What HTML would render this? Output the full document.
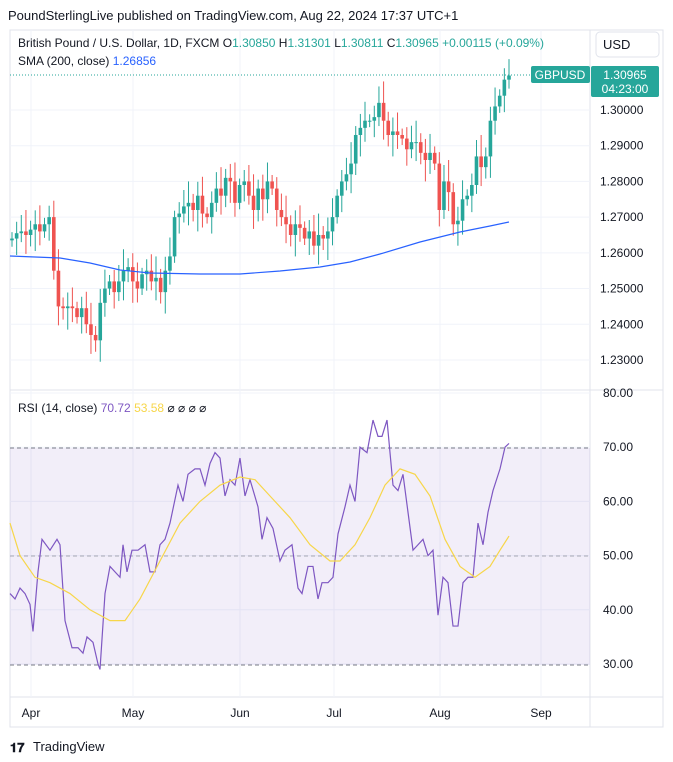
<!DOCTYPE html>
<html><head><meta charset="utf-8"><style>
body{margin:0;background:#fff;font-family:"Liberation Sans",sans-serif;}
svg{display:block}
</style></head><body>
<svg id="s" width="673" height="762" xmlns="http://www.w3.org/2000/svg" font-family="Liberation Sans, sans-serif">
<rect width="673" height="762" fill="#fff"/>
<text x="8" y="20" font-size="13" fill="#131722">PoundSterlingLive published on TradingView.com, Aug 22, 2024 17:37 UTC+1</text>
<rect x="10" y="30" width="653" height="697" fill="none" stroke="#e0e3eb"/>
<line x1="590" y1="30" x2="590" y2="727" stroke="#e0e3eb"/>
<line x1="10" y1="390" x2="663" y2="390" stroke="#e0e3eb"/>
<line x1="10" y1="697" x2="663" y2="697" stroke="#e0e3eb"/>
<rect x="596" y="32" width="63" height="25" rx="4" fill="#fff" stroke="#e0e3eb"/>
<text x="603" y="49" font-size="13" fill="#131722">USD</text>
<g id="grid"></g>
<rect x="10" y="448" width="580" height="217" fill="#7e57c2" fill-opacity="0.1"/>
<line x1="10" y1="448" x2="590" y2="448" stroke="#787b86" stroke-dasharray="4,3"/>
<line x1="10" y1="556" x2="590" y2="556" stroke="#787b86" stroke-opacity="0.6" stroke-dasharray="4,3"/>
<line x1="10" y1="665" x2="590" y2="665" stroke="#787b86" stroke-dasharray="4,3"/>
<g id="c"></g>
<line x1="10" y1="75" x2="590" y2="75" stroke="#26a69a" stroke-dasharray="1,2"/>
<rect x="531" y="66" width="59" height="17" rx="2" fill="#26a69a"/>
<text x="560" y="79" font-size="12" fill="#fff" text-anchor="middle">GBPUSD</text>
<rect x="591" y="66" width="68" height="31" rx="2" fill="#26a69a"/>
<text x="625" y="79" font-size="12" fill="#fff" text-anchor="middle">1.30965</text>
<text x="625" y="93" font-size="12" fill="#fff" text-anchor="middle">04:23:00</text>
<text x="18" y="47" font-size="12" fill="#131722">British Pound / U.S. Dollar, 1D, FXCM <tspan>O</tspan><tspan fill="#26a69a">1.30850</tspan> H<tspan fill="#26a69a">1.31301</tspan> L<tspan fill="#26a69a">1.30811</tspan> C<tspan fill="#26a69a">1.30965</tspan> <tspan fill="#26a69a">+0.00115 (+0.09%)</tspan></text>
<text x="18" y="65" font-size="12" fill="#131722">SMA (200, close) <tspan fill="#2962ff">1.26856</tspan></text>
<text x="18" y="412" font-size="12" fill="#131722">RSI (14, close) <tspan fill="#7e57c2">70.72</tspan> <tspan fill="#f7d64a">53.58</tspan> <tspan fill="#131722">⌀ ⌀ ⌀ ⌀</tspan></text>
<text x="10" y="752" font-size="13" fill="#131722" font-weight="bold">𝟏𝟕</text>
<text x="33" y="751" font-size="13" fill="#131722">TradingView</text>
</svg>
<script>
const NS="http://www.w3.org/2000/svg";
function el(p,t,a){const e=document.createElementNS(NS,t);for(const k in a)e.setAttribute(k,a[k]);document.getElementById(p).appendChild(e);return e;}
const py=p=>110+(1.30-p)*3571;
const ry=r=>393+(80-r)*5.42;
for(let p=1.23;p<=1.301;p+=0.01){const y=py(p);el("grid","line",{x1:10,x2:590,y1:y,y2:y,stroke:"#f0f3fa"});const t=el("grid","text",{x:600,y:y+4,"font-size":12,fill:"#131722"});t.textContent=p.toFixed(5);}
[80,70,60,50,40,30].forEach(r=>{const y=ry(r);el("grid","line",{x1:10,x2:590,y1:y,y2:y,stroke:"#f0f3fa"});const t=el("grid","text",{x:603,y:y+4,"font-size":12,fill:"#131722"});t.textContent=r.toFixed(2);});
[["Apr",31],["May",133],["Jun",240],["Jul",334],["Aug",440],["Sep",541]].forEach(([m,x])=>{el("grid","line",{x1:x,x2:x,y1:30,y2:697,stroke:"#f0f3fa"});const t=el("grid","text",{x:x,y:717,"font-size":12,fill:"#131722","text-anchor":"middle"});t.textContent=m;});
const C=[1.264,1.2655,1.266,1.265,1.2665,1.268,1.266,1.268,1.270,1.255,1.245,1.2445,1.245,1.2445,1.242,1.2445,1.240,1.237,1.2355,1.246,1.250,1.252,1.249,1.252,1.255,1.256,1.252,1.250,1.254,1.255,1.252,1.253,1.249,1.255,1.259,1.270,1.271,1.273,1.274,1.272,1.276,1.271,1.270,1.274,1.278,1.276,1.281,1.280,1.274,1.279,1.280,1.276,1.272,1.278,1.275,1.280,1.278,1.272,1.270,1.268,1.265,1.268,1.267,1.264,1.266,1.262,1.265,1.264,1.266,1.270,1.276,1.280,1.282,1.285,1.293,1.295,1.297,1.297,1.298,1.302,1.297,1.293,1.294,1.293,1.292,1.289,1.291,1.291,1.288,1.286,1.288,1.285,1.272,1.280,1.277,1.268,1.269,1.275,1.276,1.279,1.287,1.284,1.287,1.297,1.301,1.304,1.3085,1.30965];
const n=C.length,dx=497/(n-1);
let o=1.2635;
C.forEach((c,i)=>{const x=12+i*dx;const up=c>=o;const col=up?"#26a69a":"#ef5350";const hi=Math.max(o,c)+0.0018+((i*37)%7)*0.0007,lo=Math.min(o,c)-0.0018-((i*53)%7)*0.0007;
el("c","line",{x1:x,x2:x,y1:py(hi),y2:py(lo),stroke:col,"stroke-width":1});
const y1=py(Math.max(o,c)),y2=py(Math.min(o,c));el("c","rect",{x:x-1.8,y:y1,width:3.6,height:Math.max(1,y2-y1),fill:col});o=c;});
function poly(pts,col,f){el("c","polyline",{points:pts.map(([x,y])=>x+","+f(y)).join(" "),fill:"none",stroke:col,"stroke-width":1.2});}
poly([[10,256],[60,258],[90,263],[120,270],[150,273],[200,274],[240,274],[280,271],[320,267],[350,262],[380,254],[420,242],[460,232],[490,226],[509,222]],"#2962ff",y=>y);
const R=[[10,43],[15,42],[20,44],[25,43],[30,41],[33,36],[38,47],[42,53],[50,51],[57,53],[60,52],[65,38],[72,33],[78,33],[83,32],[87,35],[93,34],[98,30],[100,29],[105,43],[110,48],[115,47],[120,46],[123,52],[127,47],[132,51],[138,51],[145,52],[150,47],[155,47],[160,52],[165,53],[170,56],[178,63],[183,60],[188,65],[195,66],[200,66],[205,63],[210,67],[215,69],[220,68],[225,61],[230,64],[235,63],[240,68],[245,61],[250,64],[258,59],[262,53],[267,57],[273,55],[280,49],[285,51],[292,52],[298,44],[302,43],[308,48],[313,48],[318,42],[322,45],[328,45],[333,46],[338,54],[345,59],[350,63],[355,60],[360,70],[367,69],[373,75],[378,72],[382,72],[387,75],[393,63],[398,62],[403,65],[408,58],[413,51],[418,52],[423,53],[428,50],[433,51],[438,39],[443,46],[448,45],[453,37],[458,37],[463,45],[468,46],[473,46],[478,56],[483,52],[488,58],[493,62],[500,66],[505,70],[509,70.7]];
poly(R,"#7e57c2",ry);
const M=[[10,56],[20,50],[35,46],[50,45],[70,43],[90,40],[110,38],[125,38],[140,42],[160,49],[180,56],[200,60],[220,63],[240,64.5],[255,64],[270,61],[290,57],[310,52],[330,49],[340,49],[355,52],[370,57],[385,63],[400,66],[415,65],[430,61],[445,53],[460,48],[475,46],[490,48],[500,51],[509,53.6]];
poly(M,"#f7d64a",ry);
</script>
</body></html>
